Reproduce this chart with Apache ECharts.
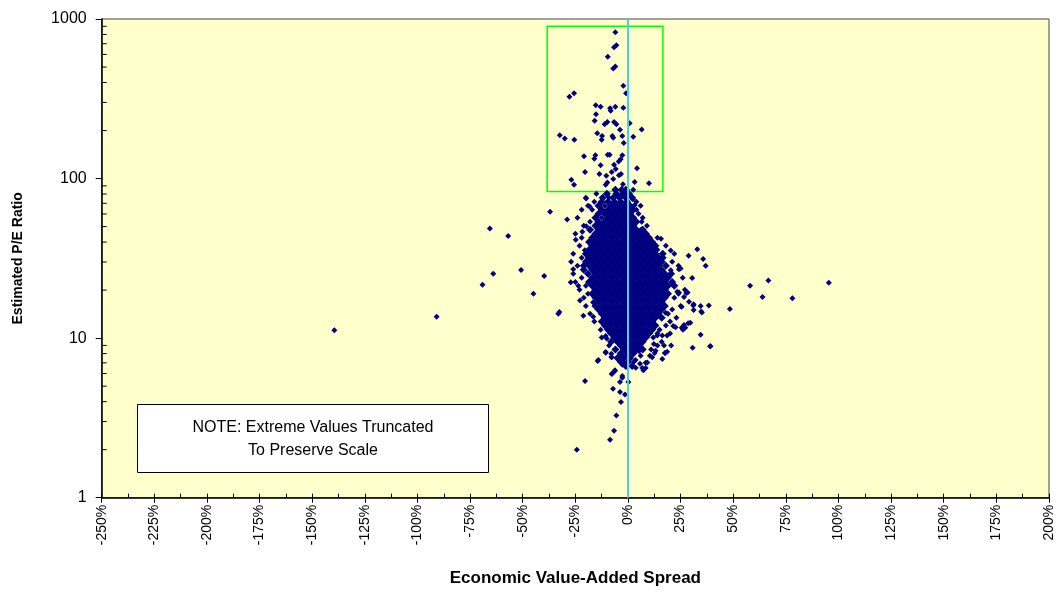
<!DOCTYPE html>
<html>
<head>
<meta charset="utf-8">
<script src="https://cdn.jsdelivr.net/npm/echarts@6/dist/echarts.min.js"></script>
<style>
html,body{margin:0;padding:0;background:#fff;}
#chart{width:1056px;height:593px;}
</style>
</head>
<body>
<div id="chart"></div>
<script>
// ---- Axis settings / tick labels ----
const xMin = -250, xMax = 200, xStep = 25;
const yTickLabels = [1, 10, 100, 1000];
const yMinorTicks = [2,3,4,5,6,7,8,9,20,30,40,50,60,70,80,90,200,300,400,500,600,700,800,900];

// ---- Highlight box (x %, P/E) and reference line ----
const boxCorners = [[-38.4, 900], [16.6, 83]];
const refLineX = 0;

// ---- Dense core of the cloud: each row = [P/E, spread %, spread %, ...] ----
const coreRows = [
  [85.0, -6,-3,-1],
  [80.2, -10,-5.5,-2.5,0.5],
  [75.7, -12,-7,-4,-1,2],
  [71.5, -12.5,-9.5,-6.5,-3.5,-0.5],
  [67.5, -14,-8,-5,-2,1],
  [63.7, -12.5,-9.5,-6.5,-3.5,-0.5,2.5],
  [60.1, -14,-11,-8,-5,-2,1],
  [56.8, -15.5,-9.5,-6.5,-3.5,-0.5,2.5],
  [53.6, -14,-11,-8,-5,-2,1,4],
  [50.6, -15.5,-12.5,-9.5,-6.5,-3.5,-0.5,2.5],
  [47.7, -18,-14,-11,-8,-5,-2,1,4,7],
  [45.1, -15.5,-12.5,-9.5,-6.5,-3.5,-0.5,2.5,5.5,8.5],
  [42.5, -17,-14,-11,-8,-5,-2,1,4,7,10],
  [40.1, -18.5,-15.5,-12.5,-9.5,-6.5,-3.5,-0.5,2.5,5.5,8.5,11.5],
  [37.9, -17,-14,-11,-8,-5,-2,1,4,7,10,13],
  [35.8, -18.5,-15.5,-12.5,-9.5,-6.5,-3.5,-0.5,2.5,5.5,8.5,11.5,13.5],
  [33.8, -20,-17,-14,-11,-8,-5,-2,1,4,7,10,13,16.5],
  [31.9, -18.5,-15.5,-12.5,-9.5,-6.5,-3.5,-0.5,2.5,5.5,8.5,11.5,14.5,16.5],
  [30.1, -20,-17,-14,-11,-8,-5,-2,1,4,7,10,13,16],
  [28.4, -21,-18.5,-15.5,-12.5,-9.5,-6.5,-3.5,-0.5,2.5,5.5,8.5,11.5,14.5,18],
  [26.8, -21,-17,-14,-11,-8,-5,-2,1,4,7,10,13,16],
  [25.3, -19,-15.5,-12.5,-9.5,-6.5,-3.5,-0.5,2.5,5.5,8.5,11.5,14.5,17.5,20.5],
  [23.9, -17,-14,-11,-8,-5,-2,1,4,7,10,13,16,19],
  [22.5, -18.5,-15.5,-12.5,-9.5,-6.5,-3.5,-0.5,2.5,5.5,8.5,11.5,14.5,17.5,21],
  [21.3, -17,-14,-11,-8,-5,-2,1,4,7,10,13,16,19,22],
  [20.1, -15.5,-12.5,-9.5,-6.5,-3.5,-0.5,2.5,5.5,8.5,11.5,14.5,17.5],
  [19.0, -17,-14,-11,-8,-5,-2,1,4,7,10,13,16,19],
  [17.9, -15.5,-12.5,-9.5,-6.5,-3.5,-0.5,2.5,5.5,8.5,11.5,14.5,17.5],
  [16.9, -14,-11,-8,-5,-2,1,4,7,10,13,16],
  [15.9, -15.5,-12.5,-9.5,-6.5,-3.5,-0.5,2.5,5.5,8.5,11.5,14.5,17.5],
  [15.1, -14,-11,-8,-5,-2,1,4,7,10,13,16],
  [14.2, -12.5,-9.5,-6.5,-3.5,-0.5,2.5,5.5,8.5,11.5,14.5],
  [13.4, -11,-8,-5,-2,1,4,7,10,13,16],
  [12.7, -12.5,-9.5,-6.5,-3.5,-0.5,2.5,5.5,8.5,11.5],
  [12.0, -11,-8,-5,-2,1,4,7,10,13],
  [11.3, -9.5,-6.5,-3.5,-0.5,2.5,5.5,8.5,11.5],
  [10.7, -8,-5,-2,1,4,7,10],
  [10.1, -6.5,-3.5,-0.5,2.5,5.5,8.5],
  [9.5, -8,-5,-2,1,4,7],
  [9.0, -3.5,-0.5,2.5,5.5],
  [8.5, -6,-2,1,4,7],
  [8.0, -3.5,-0.5,2.5],
  [7.5, -5,-2,1],
  [7.1, -3.5,0],
  [6.7, -1,2]
];

// ---- Ragged edge of the cloud: [spread %, P/E] ----
const fringePoints = [
  [-19.9,75],[-18.2,66.8],[-19.8,50.2],[-21.7,46.4],[-24.8,41.3],[-20.5,35.5],[-26,27],[-27.2,22.4],
  [-23.6,21.3],[-22.8,17.2],[-21.2,13.8],[-16.5,13.6],[-16.6,16.8],
  [3.2,68.2],[2.4,74.3],[15.7,41.9],[10.9,38.4],[6.3,48],[3.6,53],[20.3,26.6],[24.2,27],[18.4,24.2],
  [27.7,19.2],[23.4,19.5],[17.9,14.4],[21.5,11.9],
  [-10.6,8.1],[-7.7,7.6],[-14.4,7.2],[3.6,7.3],[8.4,7.0],[11.5,7.6],[17.6,8.07],[6.8,6.5],[-6.2,6.3],
  [-7.5,6.0],[-2.7,5.8],
  [-23,20.1],[-19,19],[-21,17.9],[-20,15.9],[-18,14.2],[-16,12.7],[-13,11.3],[-12.5,10.1],[-9,9.0],
  [14,10.7],[12,10.1],[16,9.5],[14,9.0],[11,8.5],[24,19],[22,17.9],[29,16.9],[25,15.9],[21,15.1],
  [19,14.2],[23,13.4],[20,12.7],[18,12.0],[15,11.3],[20,10.7],[26,23.9],[27,20.1],[24,28.4],[21,30.1],
  [22,33.8],[18,37.9],[14,42.5],[9,50.6],[7,56.8],[-22,31.9],[-24,28.4],[-27,30.1],[-26,33.8],
  [-23,37.9],[-22,42.5],[-25,45.1],[-21,50.6],[-24,56.8],[-22,63.7],[-19,67.5],[-20,75.7],[-16,71.5],
  [4,71.5],[6,67.5],[-26,25.3],[-25,22.5],[-22,23.9],[-20,21.3],
  [-15,80.2],[-17,63.7],[-12.5,56.8],[-11,67.5],[5,60.1],[-9,75.7],[4,63.7],[-18,53.6],[6.5,53.6]
];

// ---- Individually readable points: [spread %, P/E] ----
const highPoints = [
  [-6.0,826],[-6.6,665],[-5.5,684],[-9.6,581],[-7.0,489],[-6.0,503],[-2.2,382],[-0.9,343],[-27.8,326],[-25.6,343],
  [-15.3,288],[-13.0,282],[-8.5,276],[-6.0,282],[-2.2,278],[-8.2,266],[-15.2,253],
  [-15.8,230],[-11.1,219],[-9.8,226],[-6.6,226],[-5.5,219],[-3.8,202],[0.8,222],[6.5,203],
  [-32.4,187],[-30.0,178],[-25.5,175],
  [-14.6,192],[-12.3,185],[-12.5,175],[-7.4,185],[-7.0,180],[-2.7,185],[-2.0,167],[2.5,183],
  [-20.9,138],[-15.5,140],[-16.0,133],[-9.6,141],[-8.7,141],[-2.7,140],[-3.5,132],[-4.4,128],[-6.6,122],[-13.0,121],
  [4.3,116],
  [-20.4,110],[-13.6,107],[-10.3,104],[-7.7,110],[-5.8,115],[-4.3,105],[-3.3,107],[-7.0,99.5],[-9.8,94.4],[-10.6,91.4],
  [-26.9,98.2],[-25.6,91.4],[3.2,95.3],[10.0,93.6],[2.5,85.0],[-2.4,92]
];
const leftPoints = [
  [-37.0,61.9],[-28.9,55.4],[-65.6,48.6],[-56.9,43.6],[-64.0,25.3],[-50.8,26.7],[-69.1,21.6],[-39.8,24.5],
  [-44.9,19.0],[-32.6,14.6],[-33.1,14.2],[-139.5,11.2],[-90.9,13.6]
];
const rightPoints = [
  [95.4,22.2],[66.7,23.0],[58.0,21.3],[63.9,18.1],[78.1,17.8],[48.4,15.2],[39.0,8.9],
  [32.9,36.1],[35.7,31.3],[36.9,28.4],[28.8,32.8],[20.3,35.4],[16.7,33.8],[25.0,27.3],[30.5,23.8],[28.3,19.3],[24.2,19.3],[26.6,18.1],
  [38.4,16.0],[34.5,15.9],[31.0,16.0],[34.8,14.7],[31.2,16.3],[25.5,15.7],[31.2,15.0],[35.1,14.5],
  [28.6,12.4],[26.0,11.7],[22.6,11.7],[29.6,12.5],[26.6,12.1],[25.5,11.6],[27.2,11.6],
  [34.5,10.5],[30.7,8.7],[17.1,9.0],[20.5,9.0],[16.3,10.4],[18.6,10.4],[39.2,8.9],[13.9,10.4],[26.1,11.3],[12.3,9.2]
];
const lowPoints = [
  [-24.3,2.0],[-8.5,2.31],[-6.6,2.63],[-5.5,3.28],[-3.3,3.98],[-3.8,4.6],[-1.4,4.44],[-7.1,4.82],[-20.4,5.39],
  [-3.8,5.31],[0.2,5.31],[-2.7,5.65],[-7.7,5.96],[-6.2,6.22],[-14.1,7.29],[-10.6,8.18],[-7.9,7.98],[-7.9,7.61],
  [3.7,6.53],[7.3,6.28],[8.4,6.5],[9.2,7.04],[5.7,6.91],[2.8,7.12],[16.3,7.40],[17.6,8.07],[18.6,8.22],[12.7,8.07],
  [13.1,8.34],[10.4,7.76],[5.2,8.28],[6.0,7.76],[-1.9,6.98],[-2.7,7.7],[-10.1,9.95],[-10.6,10.3],[-3.5,7.1],[-2.7,6.8]
];

// ---- Build series data ----
const coreData = [];
coreRows.forEach(row => { for (let i = 1; i < row.length; i++) coreData.push([row[i], row[0]]); });
const pointData = [].concat(fringePoints, highPoints, leftPoints, rightPoints, lowPoints);

const FONT = '"Liberation Sans", Arial, Helvetica, sans-serif';
const NAVY = '#000080';

const chart = echarts.init(document.getElementById('chart'), null, {renderer: 'canvas'});
chart.setOption({
  animation: false,
  backgroundColor: '#ffffff',
  textStyle: {fontFamily: FONT},
  grid: {
    left: 101.7, right: 5.3, top: 19, bottom: 95.3,
    show: true, backgroundColor: '#FFFFCC', borderColor: '#444', borderWidth: 1,
    containLabel: false
  },
  xAxis: [
    {
      type: 'value', position: 'bottom', min: xMin, max: xMax, interval: xStep,
      axisLine: {show: true, onZero: false, lineStyle: {color: '#000', width: 1.5}},
      axisTick: {show: true, length: 5, lineStyle: {color: '#000', width: 1}},
      axisLabel: {rotate: 90, margin: 7, formatter: '{value}%', fontSize: 14, color: '#000', fontFamily: FONT},
      splitLine: {show: false},
      name: 'Economic Value-Added Spread', nameLocation: 'middle', nameGap: 72,
      nameTextStyle: {fontWeight: 'bold', fontSize: 17, color: '#000', fontFamily: FONT}
    },
    {
      type: 'value', position: 'bottom', min: xMin, max: xMax, interval: xStep,
      axisLine: {show: false, onZero: false},
      axisTick: {show: true, inside: true, length: 4, lineStyle: {color: '#000', width: 1}},
      minorTick: {show: true, splitNumber: 2, length: 4, lineStyle: {color: '#000', width: 1}},
      axisLabel: {show: false},
      splitLine: {show: false}
    }
  ],
  yAxis: {
    type: 'log', logBase: 10, min: yTickLabels[0], max: yTickLabels[yTickLabels.length - 1],
    interval: 1,
    axisLine: {show: true, onZero: false, lineStyle: {color: '#000', width: 1.5}},
    axisTick: {show: true, length: 6, lineStyle: {color: '#000', width: 1}},
    axisLabel: {fontSize: 16, margin: 15, color: '#000', fontFamily: FONT,
      formatter: v => String(Math.round(v))},
    splitLine: {show: false},
    name: 'Estimated P/E Ratio', nameLocation: 'middle', nameGap: 77, nameRotate: 90,
    nameTextStyle: {fontWeight: 'bold', fontSize: 14, color: '#000', fontFamily: FONT}
  },
  graphic: [{
    type: 'group', left: 137, top: 404,
    children: [
      {type: 'rect', shape: {x: 0, y: 0, width: 351, height: 68},
       style: {fill: '#ffffff', stroke: '#000', lineWidth: 1}},
      {type: 'text', x: 175.5, y: 23,
       style: {text: 'NOTE: Extreme Values Truncated', font: '16px ' + FONT, fill: '#000', align: 'center', verticalAlign: 'middle'}},
      {type: 'text', x: 175.5, y: 46,
       style: {text: 'To Preserve Scale', font: '16px ' + FONT, fill: '#000', align: 'center', verticalAlign: 'middle'}}
    ]
  }],
  series: [
    {
      name: 'minorTicks', type: 'custom', xAxisIndex: 0, yAxisIndex: 0, silent: true, clip: false,
      data: yMinorTicks.map(v => [xMin, v]),
      renderItem: (params, api) => {
        const p = api.coord([api.value(0), api.value(1)]);
        return {type: 'line', shape: {x1: p[0], y1: p[1], x2: p[0] + 5, y2: p[1]},
                style: {stroke: '#000', lineWidth: 1}};
      },
      z: 10
    },
    {
      name: 'core', type: 'scatter', xAxisIndex: 0, yAxisIndex: 0,
      symbol: 'diamond', symbolSize: 8, itemStyle: {color: NAVY, opacity: 1}, data: coreData, z: 2
    },
    {
      name: 'points', type: 'scatter', xAxisIndex: 0, yAxisIndex: 0,
      symbol: 'diamond', symbolSize: 6, itemStyle: {color: NAVY, opacity: 1}, data: pointData, z: 2
    },
    {
      name: 'marks', type: 'scatter', xAxisIndex: 0, yAxisIndex: 0, data: [], z: 5,
      markLine: {
        silent: true, symbol: 'none', label: {show: false},
        lineStyle: {color: '#4DCFE3', width: 2, type: 'solid'},
        data: [{xAxis: refLineX}]
      },
      markArea: {
        silent: true, label: {show: false},
        itemStyle: {color: 'rgba(0,0,0,0)', borderColor: '#00FF00', borderWidth: 1.5},
        data: [[{coord: boxCorners[0]}, {coord: boxCorners[1]}]]
      }
    }
  ]
});
</script>
</body>
</html>
